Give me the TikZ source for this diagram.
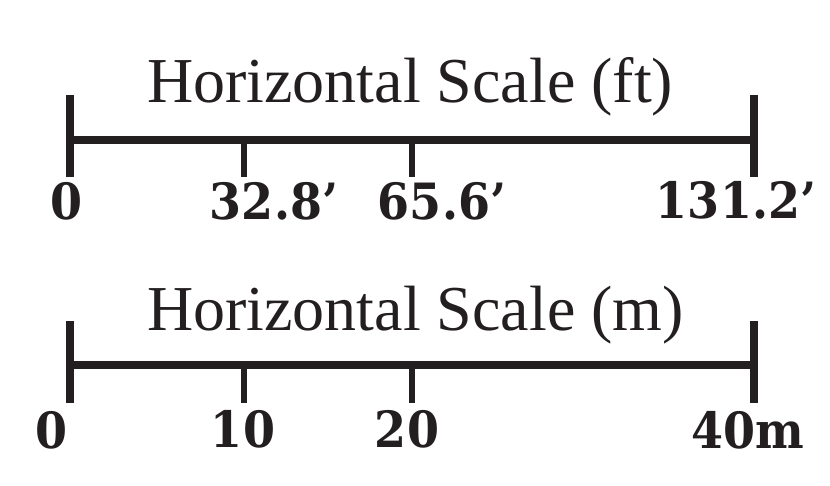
\documentclass[tikz,border=0pt]{standalone}
\usepackage{fontspec}
\setmainfont{Liberation Serif}
\newfontfamily\lblfont[FakeStretch=0.92]{DejaVu Serif}
\usepackage{xcolor}
\usepackage{tikz}
\usetikzlibrary{calc}
\definecolor{inkblack}{HTML}{231F20}
\tikzset{
    scalebar/.style={draw=inkblack, line width=8pt},
    endtick/.style={draw=inkblack, line width=8pt},
    midtick/.style={draw=inkblack, line width=5.5pt},
    scaletitle/.style={inner sep=0pt, anchor=base west, text=inkblack, font=\fontsize{64}{70}\selectfont},
    scalelabel/.style={inner sep=0pt, anchor=base, text=inkblack, font=\lblfont\bfseries\fontsize{50}{56}\selectfont}
}

\begin{document}
\begin{tikzpicture}[x=1pt, y=1pt]
    \useasboundingbox (0,0) rectangle (830,485);
    % feet
    \coordinate (ft0) at (70,345);
    \coordinate (ft1) at (244,345);
    \coordinate (ft2) at (412,345);
    \coordinate (ft3) at (754,345);
    \node[scaletitle] (fttitle) at (147,382) {Horizontal Scale (ft)};
    \draw[scalebar] (ft0) -- (ft3);
    \draw[endtick] ($(ft0)+(0,45)$) -- ($(ft0)+(0,-37)$);
    \draw[endtick] ($(ft3)+(0,45)$) -- ($(ft3)+(0,-37)$);
    \draw[midtick] (ft1) -- ($(ft1)+(0,-37)$);
    \draw[midtick] (ft2) -- ($(ft2)+(0,-37)$);
    \node[scalelabel] (ftlab0) at (67,265) {0};
    \node[scalelabel] (ftlab1) at (274,265) {32.8’};
    \node[scalelabel] (ftlab2) at (442,265) {65.6’};
    \node[scalelabel] (ftlab3) at (736,266) {131.2’};
    % metres
    \coordinate (m0) at (70,120);
    \coordinate (m1) at (244,120);
    \coordinate (m2) at (412,120);
    \coordinate (m3) at (754,120);
    \node[scaletitle] (mtitle) at (147,154) {Horizontal Scale (m)};
    \draw[scalebar] (m0) -- (m3);
    \draw[endtick] ($(m0)+(0,44)$) -- ($(m0)+(0,-38)$);
    \draw[endtick] ($(m3)+(0,44)$) -- ($(m3)+(0,-38)$);
    \draw[midtick] (m1) -- ($(m1)+(0,-38)$);
    \draw[midtick] (m2) -- ($(m2)+(0,-38)$);
    \node[scalelabel] (mlab0) at (52,37) {0};
    \node[scalelabel] (mlab1) at (243,38) {10};
    \node[scalelabel] (mlab2) at (407,38) {20};
    \node[scalelabel] (mlab3) at (748,37) {40m};
\end{tikzpicture}
\end{document}
